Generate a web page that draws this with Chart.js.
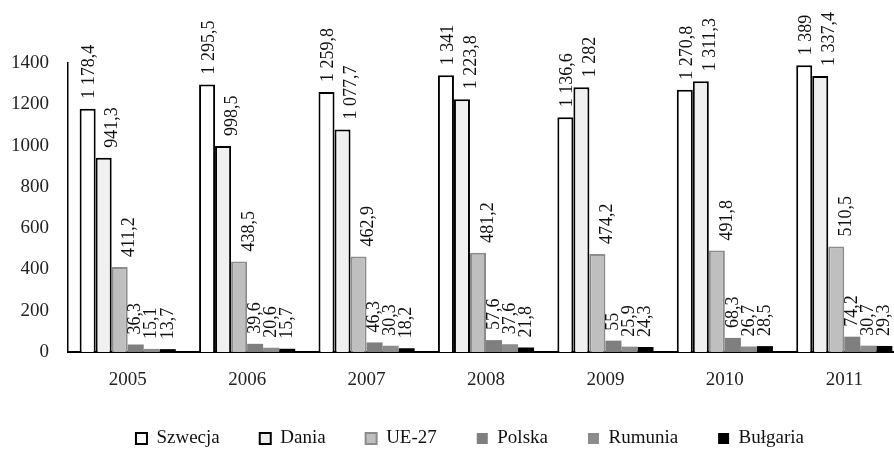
<!DOCTYPE html>
<html>
<head>
<meta charset="utf-8">
<script src="https://cdn.jsdelivr.net/npm/chart.js@4/dist/chart.umd.min.js"></script>
<style>
html, body { margin: 0; padding: 0; overflow: hidden; background: #fff; }
#wrap { position: absolute; left: 0; top: 0; width: 906px; height: 449px; }
</style>
</head>
<body>
<div id="wrap"><canvas id="chart"></canvas></div>
<script>
//lata
var years = ['2005', '2006', '2007', '2008', '2009', '2010', '2011'];
//serie
var szwecja = [1178.4, 1295.5, 1259.8, 1341, 1136.6, 1270.8, 1389];
var dania = [941.3, 998.5, 1077.7, 1223.8, 1282, 1311.3, 1337.4];
var ue27 = [411.2, 438.5, 462.9, 481.2, 474.2, 491.8, 510.5];
var polska = [36.3, 39.6, 46.3, 57.6, 55, 68.3, 74.2];
var rumunia = [15.1, 20.6, 30.3, 37.6, 25.9, 26.7, 30.7];
var bulgaria = [13.7, 15.7, 18.2, 21.8, 24.3, 28.5, 29.3];
var yTicks = [0, 200, 400, 600, 800, 1000, 1200, 1400];

var serif = "'Liberation Serif', 'DejaVu Serif', serif";
var labelShift = [2, 9, 10, 0, 0, 0];  //przesunięcie etykiet w poziomie

//format polski: 1 178,4
function plNum(v) {
    var parts = String(v).split('.');
    var intPart = parts[0].replace(/\B(?=(\d{3})+(?!\d))/g, ' ');
    return parts.length > 1 ? intPart + ',' + parts[1] : intPart;
}

//etykiety pionowe nad słupkami
const barLabels = {
    id: 'barLabels',
    afterLayout(chart) {
        //legenda lekko w prawo, jak w oryginale
        chart.legend.left += 18;
        chart.legend.right += 18;
    },
    afterDatasetsDraw(chart) {
        const ctx = chart.ctx;
        ctx.save();
        ctx.font = '18px ' + serif;
        ctx.fillStyle = '#111';
        ctx.textAlign = 'left';
        ctx.textBaseline = 'middle';
        chart.data.datasets.forEach((ds, i) => {
            const meta = chart.getDatasetMeta(i);
            meta.data.forEach((bar, j) => {
                ctx.save();
                ctx.translate(bar.x + labelShift[i], bar.y - 10);
                ctx.rotate(-Math.PI / 2);
                ctx.fillText(plNum(ds.data[j]), 0, 0);
                ctx.restore();
            });
        });
        ctx.restore();
    }
};

const data = {
    labels: years,
    datasets: [
        { label: 'Szwecja', data: szwecja, backgroundColor: '#ffffff', borderColor: '#000000', borderWidth: 2 },
        { label: 'Dania', data: dania, backgroundColor: '#f0f0f0', borderColor: '#000000', borderWidth: 2 },
        { label: 'UE-27', data: ue27, backgroundColor: '#bfbfbf', borderColor: '#8c8c8c', borderWidth: 2 },
        { label: 'Polska', data: polska, backgroundColor: '#7f7f7f', borderColor: '#7f7f7f', borderWidth: 0 },
        { label: 'Rumunia', data: rumunia, backgroundColor: '#8c8c8c', borderColor: '#8c8c8c', borderWidth: 0 },
        { label: 'Bułgaria', data: bulgaria, backgroundColor: '#000000', borderColor: '#000000', borderWidth: 0 }
    ]
};

new Chart(document.getElementById('chart'), {
    type: 'bar',
    data,
    options: {
        responsive: true,
        maintainAspectRatio: false,
        animation: false,
        layout: { padding: { left: 0, right: 2, top: 63, bottom: -9 } },
        datasets: { bar: { barPercentage: 1, categoryPercentage: 0.805, borderSkipped: 'bottom' } },
        scales: {
            x: {
                grid: { display: false, drawTicks: false },
                border: { color: '#000', width: 2 },
                ticks: { color: '#222', font: { family: serif, size: 19 }, padding: 17 },
                afterFit: (s) => { s.height = 37; }
            },
            y: {
                min: 0,
                max: 1400,
                grid: { display: false, drawTicks: false },
                border: { color: '#000', width: 1.5 },
                afterBuildTicks: (s) => { s.ticks = yTicks.map(v => ({ value: v })); },
                ticks: {
                    color: '#222',
                    font: { family: serif, size: 19 },
                    padding: 19,
                    callback: (v) => String(v)
                },
                afterFit: (s) => { s.width = 68; }
            }
        },
        plugins: {
            tooltip: { enabled: false },
            legend: {
                position: 'bottom',
                labels: {
                    color: '#111',
                    font: { family: serif, size: 19 },
                    boxWidth: 11,
                    boxHeight: 11,
                    padding: 40
                }
            }
        }
    },
    plugins: [barLabels]
});
</script>
</body>
</html>
